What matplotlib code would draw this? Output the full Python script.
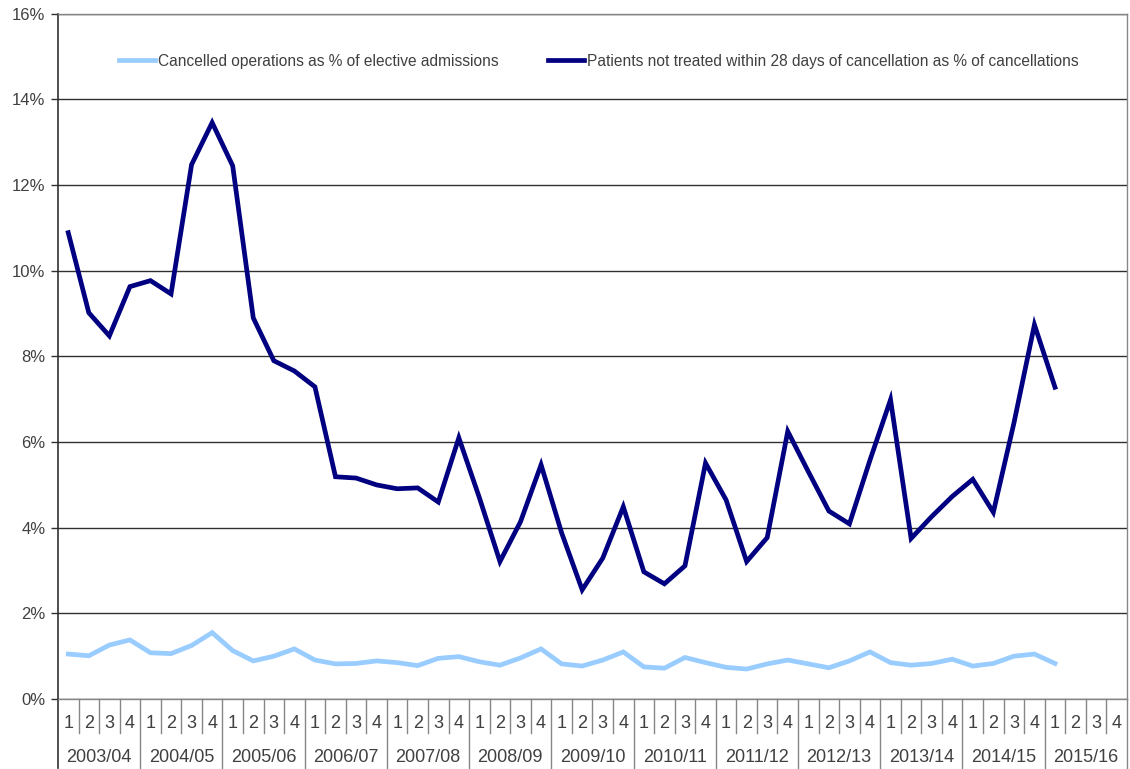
import matplotlib
matplotlib.use("Agg")
from matplotlib import pyplot as plt
from matplotlib import transforms
import numpy as np

plt.rcParams['font.family'] = ['Liberation Sans', 'DejaVu Sans']

years = ['2003/04', '2004/05', '2005/06', '2006/07', '2007/08', '2008/09', '2009/10',
         '2010/11', '2011/12', '2012/13', '2013/14', '2014/15', '2015/16']
quarters = ['1', '2', '3', '4']

# % of elective admissions cancelled, 2003/04 Q1 to 2015/16 Q1
cancelled_pct = [1.05, 1.01, 1.26, 1.38, 1.08, 1.06, 1.25, 1.55,
                 1.13, 0.89, 1.00, 1.17, 0.91, 0.82, 0.83, 0.89,
                 0.85, 0.78, 0.95, 0.99, 0.87, 0.79, 0.96, 1.17,
                 0.82, 0.77, 0.91, 1.10, 0.75, 0.72, 0.97, 0.85,
                 0.74, 0.70, 0.82, 0.91, 0.82, 0.73, 0.89, 1.10,
                 0.85, 0.79, 0.83, 0.93, 0.77, 0.83, 1.00, 1.05,
                 0.83]

# % of cancellations not treated within 28 days
not_treated_pct = [10.89, 9.02, 8.48, 9.63, 9.77, 9.46, 12.48, 13.46,
                   12.45, 8.90, 7.90, 7.66, 7.29, 5.19, 5.16, 5.00,
                   4.91, 4.93, 4.60, 6.10, 4.70, 3.21, 4.14, 5.47,
                   3.88, 2.55, 3.29, 4.49, 2.97, 2.69, 3.11, 5.51,
                   4.65, 3.21, 3.77, 6.25, 5.31, 4.39, 4.09, 5.58,
                   6.99, 3.75, 4.26, 4.73, 5.13, 4.36, 6.44, 8.74,
                   7.28]

text_col = '#404040'
grey = '#868686'

fig = plt.figure(figsize=(11.3, 7.69), dpi=100)
ax = fig.add_axes([0.0513, 0.091, 0.946, 0.891])

n_slots = len(years) * len(quarters)
x = np.arange(1, len(cancelled_pct) + 1)

ax.plot(x, cancelled_pct, color='#99CCFF', lw=3.4, solid_joinstyle='miter',
        label='Cancelled operations as % of elective admissions', zorder=3)
ax.plot(x, not_treated_pct, color='#000080', lw=3.4, solid_joinstyle='miter',
        label='Patients not treated within 28 days of cancellation as % of cancellations', zorder=3)

ax.set_xlim(0.5, n_slots + 0.5)
ax.set_ylim(0, 16)
ax.set_yticks(np.arange(0, 17, 2))
ax.set_yticklabels(['%d%%' % v for v in range(0, 17, 2)])
ax.tick_params(axis='y', direction='out', length=5, width=1, color='#303030',
               labelsize=12, labelcolor=text_col, pad=4)
ax.set_xticks([])
ax.yaxis.grid(True, color='#303030', lw=1)
ax.set_axisbelow(True)

ax.spines['left'].set_color('#303030')
ax.spines['left'].set_linewidth(1.2)
for s in ['top', 'right', 'bottom']:
    ax.spines[s].set_color(grey)
    ax.spines[s].set_linewidth(1)

# two-level category axis
trans = transforms.blended_transform_factory(ax.transData, ax.transAxes)
for i in range(n_slots):
    ax.text(i + 1, -0.035, quarters[i % 4], transform=trans, ha='center', va='center',
            fontsize=13, color=text_col)
for i in range(1, n_slots + 1):
    xb = i + 0.5
    if i % 4 == 0:
        ax.plot([xb, xb], [0, -0.1], transform=trans, color=grey, lw=1, clip_on=False)
    else:
        ax.plot([xb, xb], [0, -0.05], transform=trans, color=grey, lw=1, clip_on=False)
ax.plot([0.5, 0.5], [0, -0.1], transform=trans, color='#303030', lw=1.2, clip_on=False)
for j, yr in enumerate(years):
    ax.text(j * 4 + 2.5, -0.086, yr, transform=trans, ha='center', va='center',
            fontsize=13, color=text_col)

leg = ax.legend(loc='center', bbox_to_anchor=(0.506, 0.931), ncol=2, frameon=False,
                fontsize=11.2, handlelength=2.3, handletextpad=0.2, columnspacing=3.2)
for t in leg.get_texts():
    t.set_color(text_col)

fig.savefig('out.png', dpi=100)
